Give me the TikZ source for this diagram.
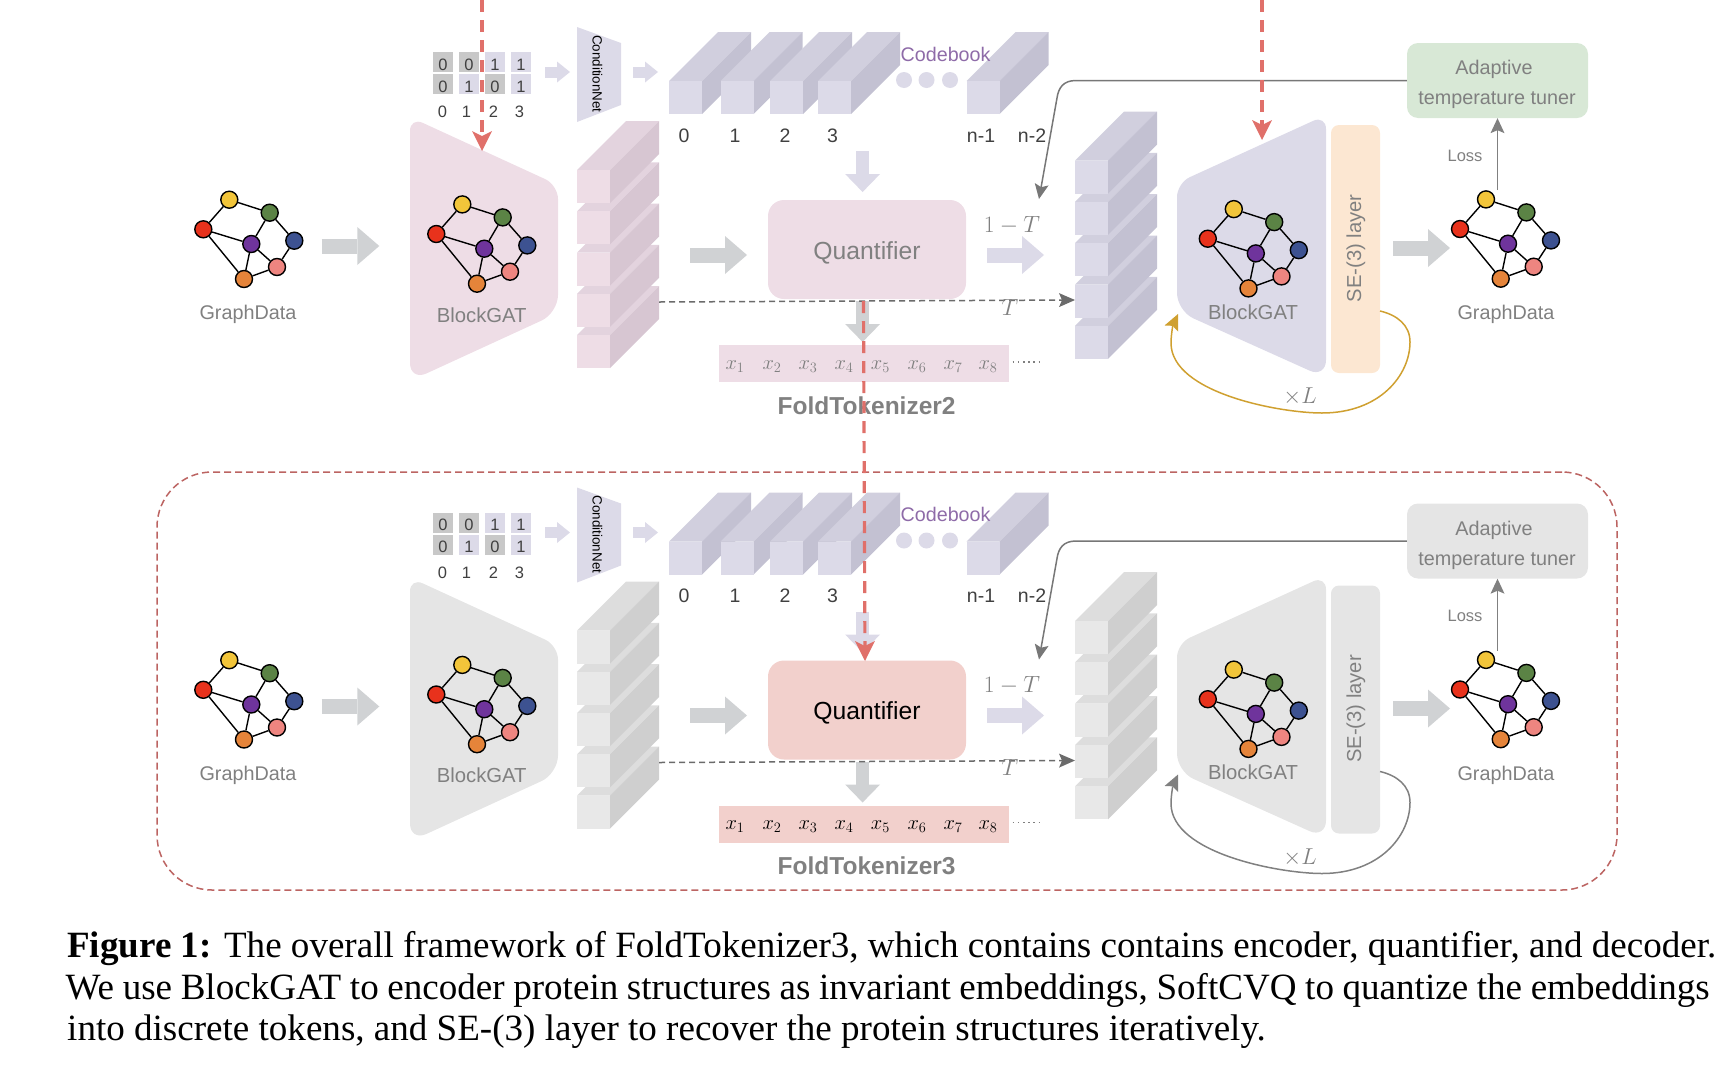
\RequirePackage{fix-cm}
\documentclass[tikz,border=0pt]{standalone}
\usepackage{fontspec}
\setmainfont{Liberation Sans}
\newfontfamily\capfont{Liberation Serif}
\usetikzlibrary{arrows.meta}
\definecolor{lilacF}{HTML}{DCDAE8}
\definecolor{lilacT}{HTML}{D1CFDE}
\definecolor{lilacS}{HTML}{C3C1D2}
\definecolor{arrowgray}{HTML}{D0D2D4}
\definecolor{labelgray}{HTML}{808080}
\definecolor{darktext}{HTML}{404040}
\definecolor{linegray}{HTML}{777777}
\definecolor{redline}{HTML}{E0706A}
\definecolor{framered}{HTML}{BC6462}
\definecolor{nYellow}{HTML}{F2C53A}
\definecolor{nGreen}{HTML}{5B8345}
\definecolor{nRed}{HTML}{E8321C}
\definecolor{nPurple}{HTML}{6F349C}
\definecolor{nBlue}{HTML}{3D5291}
\definecolor{nPink}{HTML}{EE8580}
\definecolor{nOrange}{HTML}{E5843A}
\newcommand\fsz[1]{\fontsize{#1}{#1}\selectfont}
\newcommand\lowd[1]{\raisebox{-2.5pt}[\height][0pt]{#1}}
\tikzset{
  lbl/.style={inner sep=0pt,text=labelgray,font=\fsz{19.8}},
  dark/.style={inner sep=0pt,text=darktext,font=\fsz{19.5}},
  gnode/.style={circle,draw=black,line width=1.4pt,minimum size=17pt,inner sep=0pt},
  gedge/.style={line width=1.4pt,black},
  bigarrow/.style={line width=15pt,arrowgray,-{Triangle[length=22pt,width=38pt,line width=0pt]}},
  downarrow/.style={line width=13pt,arrowgray,-{Triangle[length=18pt,width=35pt,line width=0pt]}},
  smallarrow/.style={line width=11pt,lilacF,-{Triangle[length=13pt,width=21pt,line width=0pt]}},
  thinarrow/.style={line width=1.5pt,linegray,-{Stealth[length=15pt,width=14pt,inset=3pt,line width=0pt]}},
  redarrow/.style={line width=3.2pt,redline,dash pattern=on 12pt off 8pt,-{Stealth[length=20pt,width=20pt,inset=5pt,line width=0pt]}},
  mcell/.style={minimum width=20pt,minimum height=20pt,inner sep=0pt,text=darktext,font=\fsz{16.5}},
  caplinestyle/.style={inner sep=0pt,anchor=base west,text=black,font=\capfont\fsz{37.06}},
}
% #1 name, #2 x of red node, #3 y of red node
\newcommand\pgraph[3]{%
  \begin{scope}[shift={(#2,#3)}]
    \node[gnode,fill=nRed]    (#1r) at (0,0) {};
    \node[gnode,fill=nYellow] (#1y) at (26,-29.6) {};
    \node[gnode,fill=nGreen]  (#1g) at (66.4,-16.6) {};
    \node[gnode,fill=nPurple] (#1v) at (48,14.7) {};
    \node[gnode,fill=nBlue]   (#1b) at (91,11.4) {};
    \node[gnode,fill=nPink]   (#1p) at (73.7,37.7) {};
    \node[gnode,fill=nOrange] (#1o) at (40.7,49.7) {};
    \draw[gedge] (#1r)--(#1y) (#1y)--(#1g) (#1g)--(#1b) (#1g)--(#1v) (#1r)--(#1v)
      (#1r)--(#1o) (#1v)--(#1o) (#1v)--(#1p) (#1b)--(#1p) (#1o)--(#1p);
  \end{scope}}
% #1 x, #2 y, #3 front, #4 top, #5 side
\newcommand\cuboid[5]{%
  \fill[#4] (#1,#2) -- (#1+49,#2-49) -- (#1+82,#2-49) -- (#1+33,#2) -- cycle;
  \fill[#5] (#1+33,#2) -- (#1+82,#2-49) -- (#1+82,#2-16) -- (#1+33,#2+33) -- cycle;
  \fill[#3] (#1,#2) rectangle (#1+33,#2+33);}
% #1 suffix, #2 y shift
\newcommand\fwblock[2]{%
\begin{scope}[shift={(0,#2)}]
  % input graph
  \pgraph{ga#1}{203.3}{229.3}
  \node[lbl] (gdA#1) at (248,314.5) {GraphData};
  \coordinate (a1s#1) at (321.7,246); \coordinate (a1e#1) at (379.3,246);
  \draw[bigarrow] (a1s#1) -- (a1e#1);
  % encoder
  \fill[encF] (410,250) [rounded corners=14pt] -- (410,117) -- (558,185) [rounded corners=18pt] -- (558,313) -- (410,381) [rounded corners=14pt] -- cycle;
  \pgraph{gb#1}{436.3}{234}
  \node[lbl,font=\fsz{20.3}] (encL#1) at (481.7,315) {BlockGAT};
  % condition matrix
  \node[mcell,fill=c11] (m11#1) at (443,62) {\lowd{0}};
  \node[mcell,fill=c11] (m12#1) at (469,62) {\lowd{0}};
  \node[mcell,fill=lilacF] (m13#1) at (495,62) {\lowd{1}};
  \node[mcell,fill=lilacF] (m14#1) at (521,62) {\lowd{1}};
  \node[mcell,fill=c11] (m21#1) at (443,84) {\lowd{0}};
  \node[mcell,fill=lilacF] (m22#1) at (469,84) {\lowd{1}};
  \node[mcell,fill=c11] (m23#1) at (495,84) {\lowd{0}};
  \node[mcell,fill=lilacF] (m24#1) at (521,84) {\lowd{1}};
  \node[mcell] (mx0#1) at (442.5,112) {0};
  \node[mcell] (mx1#1) at (466.5,112) {1};
  \node[mcell] (mx2#1) at (493.5,112) {2};
  \node[mcell] (mx3#1) at (519.5,112) {3};
  \coordinate (s1s#1) at (545,72); \coordinate (s1e#1) at (570,72);
  \draw[smallarrow] (s1s#1) -- (s1e#1);
  \fill[lilacF] (577,27) -- (621,43) -- (621,105) -- (577,122) -- cycle;
  \node[inner sep=0pt,rotate=-90,text=black,font=\fsz{13.4}] (cn#1) at (597.5,74) {ConditionNet};
  \coordinate (s2s#1) at (633,72); \coordinate (s2e#1) at (658,72);
  \draw[smallarrow] (s2s#1) -- (s2e#1);
  % codebook
  \foreach \cx in {669,720.6,770,818,966.6} {\cuboid{\cx}{81}{lilacF}{lilacT}{lilacS}}
  \fill[lilacF] (904,80) circle (8pt) (926.5,80) circle (8pt) (950,80) circle (8pt);
  \node[inner sep=0pt,text=codecol,font=\fsz{19.7}] (cbk#1) at (945.6,54) {Codebook};
  \node[dark] (cl0#1) at (684,135.5) {0};
  \node[dark] (cl1#1) at (735,135.5) {1};
  \node[dark] (cl2#1) at (785,135.5) {2};
  \node[dark] (cl3#1) at (832.5,135.5) {3};
  \node[dark] (cln1#1) at (981,135.5) {n-1};
  \node[dark] (cln2#1) at (1032,135.5) {n-2};
  % encoder stack
  \foreach \sy in {335.2,293.9,252.6,211.3,170} {\cuboid{577}{\sy}{stF}{stT}{stS}}
  % quantifier
  \node[fill=qF,rounded corners=16pt,minimum width=198pt,minimum height=99pt,inner sep=0pt] (quant#1) at (867,249.5) {};
  \node[inner sep=0pt,text=qtext,font=\fsz{24.7}] (quantL#1) at (867,252.5) {Quantifier};
  \coordinate (a2s#1) at (690,255); \coordinate (a2e#1) at (747,255);
  \draw[bigarrow] (a2s#1) -- (a2e#1);
  \coordinate (a3s#1) at (862.6,151); \coordinate (a3e#1) at (862.6,192);
  \draw[downarrow,lilacF] (a3s#1) -- (a3e#1);
  \coordinate (a4s#1) at (987,255); \coordinate (a4e#1) at (1044,255);
  \draw[bigarrow,lilacF] (a4s#1) -- (a4e#1);
  \node[inner sep=0pt,text=labelgray,font=\fsz{23.5}] (omt#1) at (1012,225) {$1-T$};
  % tokens
  \node[fill=qF,minimum width=289.5pt,minimum height=37pt,inner sep=0pt] (bar#1) at (863.8,363.5) {};
  \coordinate (a5s#1) at (862.6,301); \coordinate (a5e#1) at (862.6,342);
  \draw[downarrow] (a5s#1) -- (a5e#1);
  \foreach \tx/\ti in {735/1,772/2,808/3,844/4,880.4/5,917/6,953/7,988/8}
    {\node[inner sep=0pt,text=qtext,font=\fsz{20.5}] (tok\ti#1) at (\tx,366.5) {$x_{\ti}$};}
  \coordinate (dts#1) at (1012.6,362); \coordinate (dte#1) at (1043,362);
  \draw[labelgray,line width=1.5pt,dash pattern=on 1.5pt off 3.7pt] (dts#1) -- (dte#1);
  \node[inner sep=0pt,text=labelgray,font=\bfseries\fsz{24.5}] (title#1) at (866.6,405.6) {FoldTokenizer#1};
  % decoder stack
  \foreach \sy in {325.8,284.5,243.2,201.9,160.6} {\cuboid{1075}{\sy}{dsF}{dsT}{dsS}}
  % dashed T
  \coordinate (dls#1) at (659,302); \coordinate (dle#1) at (1075,300);
  \draw[line width=1.5pt,color=linegray!90!black,dash pattern=on 6pt off 4pt,-{Stealth[length=16pt,width=14pt,inset=3pt,line width=0pt]}] (dls#1) -- (dle#1);
  \node[inner sep=0pt,text=labelgray,font=\fsz{23.5}] (tT#1) at (1010,307) {$T$};
  % decoder
  \fill[decF] (1326,250) [rounded corners=14pt] -- (1326,115) -- (1177,183) [rounded corners=18pt] -- (1177,311) -- (1326,378) [rounded corners=14pt] -- cycle;
  \pgraph{gc#1}{1207.8}{238.7}
  \node[lbl,font=\fsz{20.3}] (decL#1) at (1253,312) {BlockGAT};
  \node[fill=seF,rounded corners=8pt,minimum width=49pt,minimum height=248pt,inner sep=0pt] (se#1) at (1355.5,249) {};
  \node[lbl,rotate=90,font=\fsz{20.2}] (seL#1) at (1356,248.5) {SE-(3) layer};
  \coordinate (a6s#1) at (1393,248); \coordinate (a6e#1) at (1450,248);
  \draw[bigarrow] (a6s#1) -- (a6e#1);
  % output graph
  \pgraph{gd#1}{1460}{229}
  \node[lbl] (gdB#1) at (1506,314.5) {GraphData};
  % tuner
  \node[fill=tuF,rounded corners=11pt,minimum width=181pt,minimum height=75pt,inner sep=0pt] (tuner#1) at (1497.5,80.5) {};
  \node[lbl] (tu1#1) at (1494,69.5) {Adaptive};
  \node[lbl] (tu2#1) at (1497,100.5) {temperature tuner};
  \coordinate (ls#1) at (1497.5,190);
  \draw[thinarrow,labelgray] (ls#1) -- (tuner#1.south);
  \node[lbl,font=\fsz{16.5}] (loss#1) at (1465,155.7) {Loss};
  \coordinate (tp#1) at (1039,199);
  \draw[thinarrow] (tuner#1.west) -- (1076,80.5) .. controls (1063,80.5) and (1058.5,88) .. (1057,98) -- (tp#1);
  % loop
  \coordinate (lps#1) at (1380,311); \coordinate (lpe#1) at (1178,314);
  \draw[line width=1.5pt,loopcol,-{Stealth[length=16pt,width=15pt,inset=3pt,line width=0pt]}] (lps#1) .. controls (1397,315) and (1410,325) .. (1410,342) .. controls (1410,375) and (1380,413) .. (1322,413) .. controls (1280,413) and (1171,393) .. (1171,343) .. controls (1171,335) and (1173,325) .. (lpe#1);
  \node[inner sep=0pt,text=labelgray,font=\fsz{23}] (tL#1) at (1300,397) {$\times L$};
\end{scope}}
\begin{document}
\begin{tikzpicture}[x=1pt,y=-1pt]
\useasboundingbox (0,0) rectangle (1734,1066);
% frame
\node[draw=framered,line width=1.5pt,dash pattern=on 7pt off 4pt,rounded corners=55pt,minimum width=1460pt,minimum height=418pt,inner sep=0pt] (frame) at (887,681) {};
% block 2
\definecolor{encF}{HTML}{EEDDE6}
\definecolor{c11}{HTML}{C8C8C8}
\definecolor{codecol}{HTML}{8E6BA8}
\definecolor{stF}{HTML}{EEDDE6}
\definecolor{stT}{HTML}{E3D3DE}
\definecolor{stS}{HTML}{D7C6D2}
\definecolor{qF}{HTML}{EEDDE6}
\colorlet{qtext}{labelgray}
\colorlet{dsF}{lilacF}
\colorlet{dsT}{lilacT}
\colorlet{dsS}{lilacS}
\colorlet{decF}{lilacF}
\definecolor{seF}{HTML}{FCE7D2}
\definecolor{tuF}{HTML}{D8E8D6}
\definecolor{loopcol}{HTML}{CFA030}
\fwblock{2}{0}
% block 3
\definecolor{encF}{HTML}{E5E5E5}
\definecolor{stF}{HTML}{E8E8E8}
\definecolor{stT}{HTML}{DDDDDD}
\definecolor{stS}{HTML}{CFCFCF}
\definecolor{qF}{HTML}{F2D0CC}
\colorlet{qtext}{black}
\definecolor{dsF}{HTML}{E8E8E8}
\definecolor{dsT}{HTML}{DDDDDD}
\definecolor{dsS}{HTML}{CFCFCF}
\definecolor{decF}{HTML}{E5E5E5}
\definecolor{seF}{HTML}{E5E5E5}
\definecolor{tuF}{HTML}{E5E5E5}
\definecolor{loopcol}{HTML}{808080}
\fwblock{3}{460.5}
% red dashed
\coordinate (r1s) at (482,0); \coordinate (r1e) at (482,151);
\draw[redarrow] (r1s) -- (r1e);
\coordinate (r2s) at (1262,0); \coordinate (r2e) at (1262,140);
\draw[redarrow] (r2s) -- (r2e);
\coordinate (r3s) at (863.5,301); \coordinate (r3e) at (865,661);
\draw[redarrow] (r3s) -- (r3e);
% caption
\node[caplinestyle] (cap1) at (67,957.7) {\makebox[1649pt][s]{\textbf{Figure 1:} The overall framework of FoldTokenizer3, which contains contains encoder, quantifier, and decoder.}};
\node[caplinestyle] (cap2) at (65.5,999.3) {\makebox[1644pt][s]{We use BlockGAT to encoder protein structures as invariant embeddings, SoftCVQ to quantize the embeddings}};
\node[caplinestyle] (cap3) at (67,1040) {into discrete tokens, and SE-(3) layer to recover the protein structures iteratively.};
\end{tikzpicture}
\end{document}
